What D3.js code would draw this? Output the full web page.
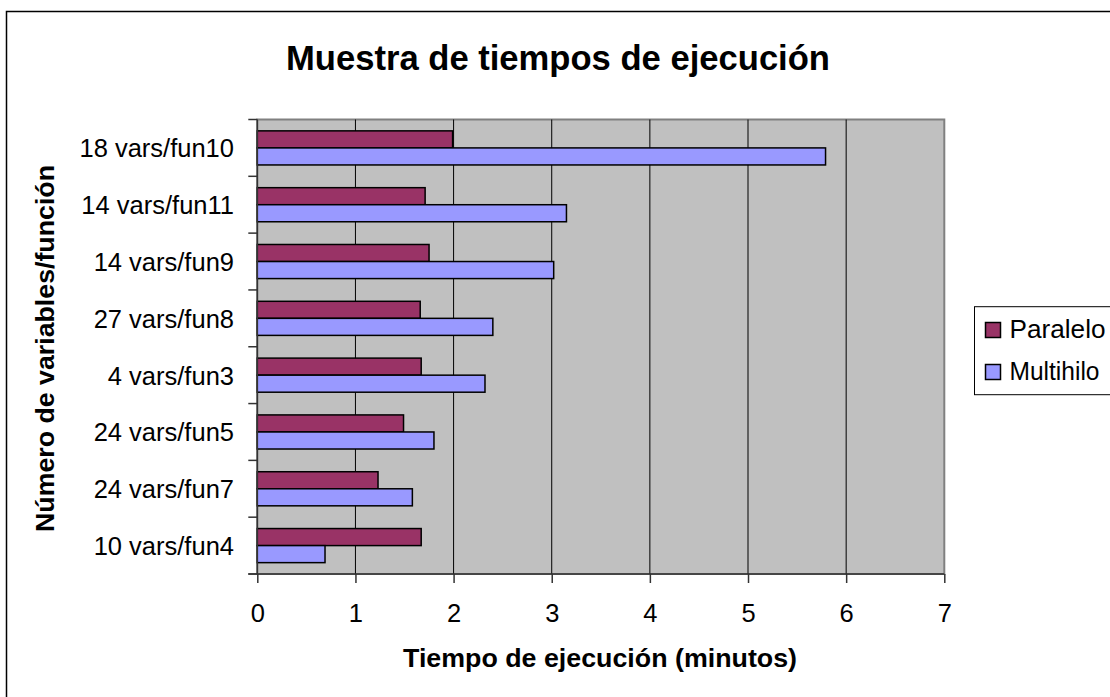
<!DOCTYPE html>
<html>
<head>
<meta charset="utf-8">
<script src="https://cdn.jsdelivr.net/npm/d3@7/dist/d3.min.js"></script>
<style>
  html, body { margin: 0; padding: 0; background: #fff; }
  svg { display: block; }
  text { font-family: "Liberation Sans", Arial, sans-serif; fill: #000; }
</style>
</head>
<body>
<script>
const title = "Muestra de tiempos de ejecución";
const xTitle = "Tiempo de ejecución (minutos)";
const yTitle = "Número de variables/función";
const categories = ["18 vars/fun10", "14 vars/fun11", "14 vars/fun9", "27 vars/fun8",
                    "4 vars/fun3", "24 vars/fun5", "24 vars/fun7", "10 vars/fun4"];
const seriesNames = ["Paralelo", "Multihilo"];
const paralelo = [1.99, 1.71, 1.75, 1.66, 1.67, 1.49, 1.23, 1.67];
const multihilo = [5.79, 3.15, 3.02, 2.40, 2.32, 1.80, 1.58, 0.69];
const xTicks = [0, 1, 2, 3, 4, 5, 6, 7];
const colors = ["#993366", "#9999FF"];

const W = 1110, H = 697;
const plot = { left: 257.3, right: 944.3, top: 119.5, bottom: 574 };

const svg = d3.select("body").append("svg").attr("width", W).attr("height", H);
svg.append("rect").attr("width", W).attr("height", H).attr("fill", "#fff");

// outer chart frame
svg.append("rect").attr("x", 6.5).attr("y", 11.5).attr("width", 1120).attr("height", 700)
  .attr("fill", "none").attr("stroke", "#000").attr("stroke-width", 1.5);

const x = d3.scaleLinear().domain([0, 7]).range([plot.left, plot.right]);
const y = d3.scaleBand().domain(categories).range([plot.top, plot.bottom])
  .paddingInner(0.4).paddingOuter(0.2);
const ySub = d3.scaleBand().domain(seriesNames).range([0, y.bandwidth()]);

// plot background
svg.append("rect").attr("x", plot.left).attr("y", plot.top)
  .attr("width", plot.right - plot.left).attr("height", plot.bottom - plot.top)
  .attr("fill", "#C0C0C0").attr("stroke", "#808080").attr("stroke-width", 2);

// gridlines
svg.append("g").selectAll("line").data(xTicks.filter(d => d > 0 && d < 7)).join("line")
  .attr("x1", d => x(d)).attr("x2", d => x(d))
  .attr("y1", plot.top).attr("y2", plot.bottom)
  .attr("stroke", "#000").attr("stroke-width", 1);

// bars
const series = [paralelo, multihilo];
series.forEach((vals, si) => {
  svg.append("g").selectAll("rect").data(categories).join("rect")
    .attr("x", x(0))
    .attr("y", (c) => y(c) + ySub(seriesNames[si]))
    .attr("width", (c, i) => x(vals[i]) - x(0))
    .attr("height", ySub.bandwidth())
    .attr("fill", colors[si]).attr("stroke", "#000").attr("stroke-width", 1.5);
});

// x axis
const xAxis = d3.axisBottom(x).tickValues(xTicks).tickSize(9).tickPadding(12).tickFormat(d3.format("d"));
const gx = svg.append("g").attr("transform", `translate(0,${plot.bottom})`).call(xAxis);
gx.select(".domain").remove();
gx.append("line").attr("x1", plot.left - 9).attr("x2", plot.right).attr("y1", 0).attr("y2", 0)
  .attr("stroke", "#333").attr("stroke-width", 1.5);
gx.selectAll(".tick line").attr("stroke", "#333").attr("stroke-width", 1.5);
gx.selectAll(".tick text").attr("font-size", 25.5).attr("font-family", "Liberation Sans, Arial, sans-serif")
  .attr("fill", "#000").attr("dy", null).attr("y", 48);

// y axis (category boundaries as ticks)
const bounds = d3.range(categories.length + 1).map(i => plot.top + i * y.step());
svg.append("line").attr("x1", plot.left).attr("x2", plot.left).attr("y1", plot.top).attr("y2", plot.bottom)
  .attr("stroke", "#333").attr("stroke-width", 1.5);
svg.append("g").selectAll("line").data(bounds).join("line")
  .attr("x1", plot.left - 9).attr("x2", plot.left).attr("y1", d => d).attr("y2", d => d)
  .attr("stroke", "#333").attr("stroke-width", 1.5);
svg.append("g").selectAll("text").data(categories).join("text")
  .attr("x", 234).attr("y", c => y(c) + y.bandwidth() / 2 + 9.5)
  .attr("text-anchor", "end").attr("font-size", 25.5).text(c => c);

// title
svg.append("text").attr("x", 558).attr("y", 70).attr("text-anchor", "middle")
  .attr("font-size", 35).attr("font-weight", "bold")
  .attr("textLength", 544).attr("lengthAdjust", "spacingAndGlyphs").text(title);

// x title
svg.append("text").attr("x", 600).attr("y", 667).attr("text-anchor", "middle")
  .attr("font-size", 26.5).attr("font-weight", "bold")
  .attr("textLength", 394).attr("lengthAdjust", "spacingAndGlyphs").text(xTitle);

// y title
svg.append("text").attr("transform", "translate(54,348.5) rotate(-90)").attr("text-anchor", "middle")
  .attr("font-size", 26.5).attr("font-weight", "bold")
  .attr("textLength", 367).attr("lengthAdjust", "spacingAndGlyphs").text(yTitle);

// legend
const lg = svg.append("g");
lg.append("rect").attr("x", 974.5).attr("y", 306.7).attr("width", 160).attr("height", 88)
  .attr("fill", "#fff").attr("stroke", "#000").attr("stroke-width", 1);
const legendY = [337.5, 379.5];
const legendW = [96, 90];
seriesNames.forEach((name, i) => {
  lg.append("rect").attr("x", 985.5).attr("y", legendY[i] - 15).attr("width", 15).attr("height", 15)
    .attr("fill", colors[i]).attr("stroke", "#000").attr("stroke-width", 1.5);
  lg.append("text").attr("x", 1009.5).attr("y", legendY[i]).attr("font-size", 25.5)
    .attr("textLength", legendW[i]).attr("lengthAdjust", "spacingAndGlyphs").text(name);
});
</script>
</body>
</html>
